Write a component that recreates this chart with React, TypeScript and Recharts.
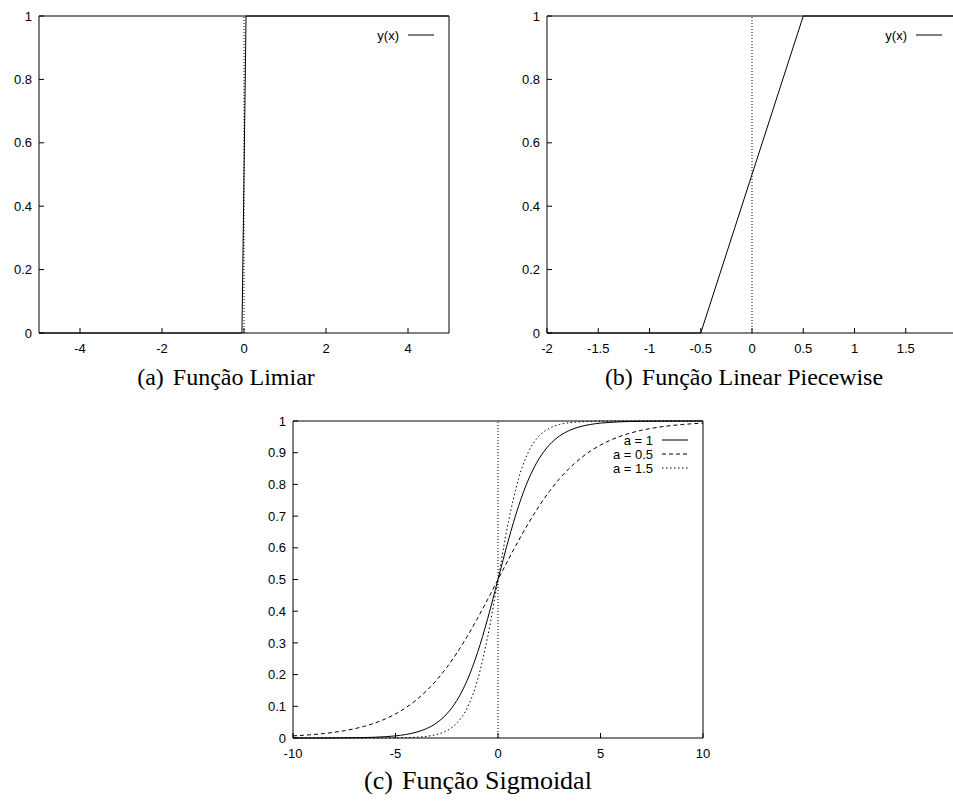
import { LineChart, Line, XAxis, YAxis, ReferenceLine, Legend } from "recharts";

// (a) threshold function
const stepX = [-5, -0.05, 0.05, 5];
const stepY = [0, 0, 1, 1];

// (b) piecewise linear function
const rampX = [-2, -0.5, 0.5, 2];
const rampY = [0, 0, 1, 1];

// (c) sigmoid curves, read at every 0.5 on x
const sigX = [
  -10, -9.5, -9, -8.5, -8, -7.5, -7, -6.5, -6, -5.5, -5, -4.5, -4, -3.5, -3, -2.5, -2, -1.5, -1, -0.5,
  0, 0.5, 1, 1.5, 2, 2.5, 3, 3.5, 4, 4.5, 5, 5.5, 6, 6.5, 7, 7.5, 8, 8.5, 9, 9.5, 10,
];
const sigA1 = [
  0.0, 0.0001, 0.0001, 0.0002, 0.0003, 0.0006, 0.0009, 0.0015, 0.0025, 0.0041, 0.0067, 0.011, 0.018, 0.0293,
  0.0474, 0.0759, 0.1192, 0.1824, 0.2689, 0.3775, 0.5, 0.6225, 0.7311, 0.8176, 0.8808, 0.9241, 0.9526, 0.9707,
  0.982, 0.989, 0.9933, 0.9959, 0.9975, 0.9985, 0.9991, 0.9994, 0.9997, 0.9998, 0.9999, 0.9999, 1.0,
];
const sigA05 = [
  0.0067, 0.0086, 0.011, 0.0141, 0.018, 0.023, 0.0293, 0.0373, 0.0474, 0.0601, 0.0759, 0.0953, 0.1192, 0.148,
  0.1824, 0.2227, 0.2689, 0.3208, 0.3775, 0.4378, 0.5, 0.5622, 0.6225, 0.6792, 0.7311, 0.7773, 0.8176, 0.852,
  0.8808, 0.9047, 0.9241, 0.9399, 0.9526, 0.9627, 0.9707, 0.977, 0.982, 0.9859, 0.989, 0.9914, 0.9933,
];
const sigA15 = [
  0.0, 0.0, 0.0, 0.0, 0.0, 0.0, 0.0, 0.0001, 0.0001, 0.0003, 0.0006, 0.0012, 0.0025, 0.0052, 0.011, 0.023,
  0.0474, 0.0953, 0.1824, 0.3208, 0.5, 0.6792, 0.8176, 0.9047, 0.9526, 0.977, 0.989, 0.9948, 0.9975, 0.9988,
  0.9994, 0.9997, 0.9999, 0.9999, 1.0, 1.0, 1.0, 1.0, 1.0, 1.0, 1.0,
];

const ticksA = [-4, -2, 0, 2, 4];
const ticksB = [-2, -1.5, -1, -0.5, 0, 0.5, 1, 1.5, 2];
const ticksC = [-10, -5, 0, 5, 10];
const yTicksAB = [0, 0.2, 0.4, 0.6, 0.8, 1];
const yTicksC = [0, 0.1, 0.2, 0.3, 0.4, 0.5, 0.6, 0.7, 0.8, 0.9, 1];

const sigSeries = [
  { key: "a1", label: "a = 1", dash: undefined },
  { key: "a05", label: "a = 0.5", dash: "4 3" },
  { key: "a15", label: "a = 1.5", dash: "1.5 2.5" },
];

const stepData = stepX.map((x, i) => ({ x, y: stepY[i] }));
const rampData = rampX.map((x, i) => ({ x, y: rampY[i] }));
const sigData = sigX.map((x, i) => ({ x, a1: sigA1[i], a05: sigA05[i], a15: sigA15[i] }));

// plot box and the space around it inside each svg
const PW = 410;
const PH = 317;
const OFF_L = 45;
const OFF_T = 10;
const OFF_R = 10;
const OFF_B = 45;
const W = PW + OFF_L + OFF_R;
const H = PH + OFF_T + OFF_B;

const sans = "'Liberation Sans', Arial, Helvetica, sans-serif";
const serif = "'Liberation Serif', 'Times New Roman', Times, serif";
const tickFont = { fill: "#000", fontSize: 13, fontFamily: sans };

type LegendItem = { label: string; dash?: string };

function legendContent(items: LegendItem[]) {
  return () => (
    <div
      style={{
        display: "flex",
        flexDirection: "column",
        alignItems: "flex-end",
        fontFamily: sans,
        fontSize: 13,
        color: "#000",
      }}
    >
      {items.map((it) => (
        <div key={it.label} style={{ display: "flex", alignItems: "center", height: 14 }}>
          <span style={{ whiteSpace: "pre" }}>{it.label}</span>
          <svg width={26} height={4} style={{ marginLeft: 9, display: "block" }}>
            <line x1={0} y1={2} x2={26} y2={2} stroke="#000" strokeWidth={1} strokeDasharray={it.dash} />
          </svg>
        </div>
      ))}
    </div>
  );
}

interface PanelProps {
  x: number;
  y: number;
  data: any[];
  xDomain: [number, number];
  xTicks: number[];
  yTicks: number[];
  legend: LegendItem[];
  children: React.ReactNode;
}

function Panel({ x, y, data, xDomain, xTicks, yTicks, legend, children }: PanelProps) {
  return (
    <div style={{ position: "absolute", left: x - OFF_L, top: y - OFF_T }}>
      <LineChart width={W} height={H} data={data} margin={{ top: OFF_T - 1, right: OFF_R - 1, left: 5, bottom: 15 }}>
        <XAxis
          dataKey="x"
          type="number"
          domain={xDomain}
          ticks={xTicks}
          interval={0}
          allowDataOverflow
          height={30}
          tickSize={-5}
          tickMargin={16}
          stroke="#000"
          tick={tickFont}
        />
        <XAxis
          xAxisId="top"
          orientation="top"
          dataKey="x"
          type="number"
          domain={xDomain}
          ticks={xTicks}
          interval={0}
          allowDataOverflow
          height={1}
          tickSize={-5}
          tick={false}
          stroke="#000"
        />
        <YAxis
          type="number"
          domain={[0, 1]}
          ticks={yTicks}
          interval={0}
          width={40}
          tickSize={-5}
          tickMargin={12}
          stroke="#000"
          tick={tickFont}
        />
        <YAxis
          yAxisId="right"
          orientation="right"
          type="number"
          domain={[0, 1]}
          ticks={yTicks}
          interval={0}
          width={1}
          tickSize={-5}
          tick={false}
          stroke="#000"
        />
        <ReferenceLine x={0} stroke="#000" strokeDasharray="1 2" />
        {children}
        <Legend
          layout="vertical"
          align="center"
          verticalAlign="middle"
          wrapperStyle={{ left: W - OFF_R - 15 - 160, top: OFF_T + 12, width: 160 }}
          content={legendContent(legend)}
        />
      </LineChart>
    </div>
  );
}

function Caption({ cx, cy, size, label, text }: { cx: number; cy: number; size: number; label: string; text: string }) {
  return (
    <div
      style={{
        position: "absolute",
        left: cx - 200,
        top: cy - 14,
        width: 400,
        textAlign: "center",
        fontFamily: serif,
        fontSize: size,
        lineHeight: "28px",
        color: "#000",
        whiteSpace: "pre",
      }}
    >
      <span style={{ marginRight: 9 }}>{label}</span>
      {text}
    </div>
  );
}

export default function App() {
  return (
    <div
      style={{
        position: "absolute",
        left: 0,
        top: 0,
        width: 953,
        height: 804,
        overflow: "hidden",
        background: "#fff",
      }}
    >
      <Panel x={39} y={16} data={stepData} xDomain={[-5, 5]} xTicks={ticksA} yTicks={yTicksAB} legend={[{ label: "y(x)" }]}>
        <Line type="linear" dataKey="y" name="y(x)" stroke="#000" strokeWidth={1} dot={false} activeDot={false} isAnimationActive={false} />
      </Panel>
      <Panel x={547} y={16} data={rampData} xDomain={[-2, 2]} xTicks={ticksB} yTicks={yTicksAB} legend={[{ label: "y(x)" }]}>
        <Line type="linear" dataKey="y" name="y(x)" stroke="#000" strokeWidth={1} dot={false} activeDot={false} isAnimationActive={false} />
      </Panel>
      <Panel x={293} y={421} data={sigData} xDomain={[-10, 10]} xTicks={ticksC} yTicks={yTicksC} legend={sigSeries}>
        {sigSeries.map((s) => (
          <Line
            key={s.key}
            type="monotone"
            dataKey={s.key}
            name={s.label}
            stroke="#000"
            strokeWidth={1}
            strokeDasharray={s.dash}
            dot={false}
            activeDot={false}
            isAnimationActive={false}
          />
        ))}
      </Panel>
      <Caption cx={226} cy={377} size={24} label="(a)" text="Função Limiar" />
      <Caption cx={744} cy={377} size={24} label="(b)" text="Função Linear Piecewise" />
      <Caption cx={478} cy={781} size={26} label="(c)" text="Função Sigmoidal" />
    </div>
  );
}
